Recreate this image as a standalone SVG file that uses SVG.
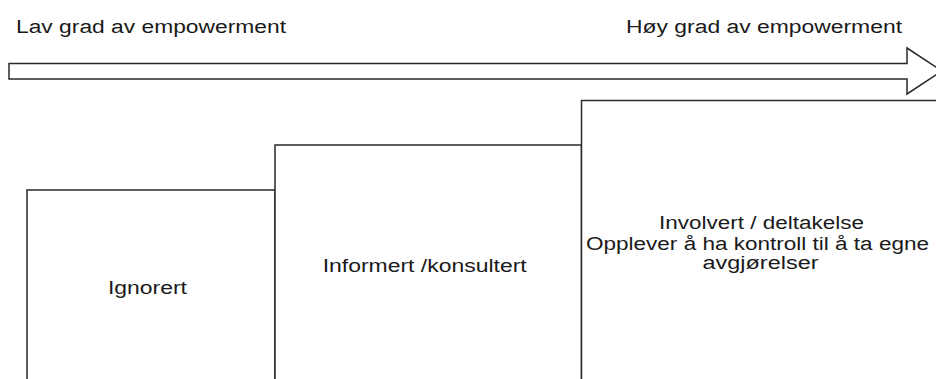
<svg xmlns="http://www.w3.org/2000/svg" width="936" height="379" viewBox="0 0 936 379">
<style>
.box{fill:#ffffff;stroke:#2a2a2a;stroke-width:1.5}
.lbl{font-family:"Liberation Sans",Arial,sans-serif;font-size:18px;fill:#1a1a1a}
.mid{text-anchor:middle}
</style>
<rect x="0" y="0" width="936" height="379" fill="#ffffff"/>
<g id="arrow">
<path class="box" d="M9,63.5 L907,63.5 L907,48 L942,71 L907,94 L907,79 L9,79 Z"/>
</g>
<g id="label-low">
<text class="lbl" x="16" y="33" textLength="270" lengthAdjust="spacingAndGlyphs">Lav grad av empowerment</text>
</g>
<g id="label-high">
<text class="lbl" x="626" y="33" textLength="276" lengthAdjust="spacingAndGlyphs">Høy grad av empowerment</text>
</g>
<g id="connectors"></g>
<g id="node-ignorert">
<rect class="box" x="27" y="190" width="248" height="200"/>
<text class="lbl mid" x="147.5" y="294" textLength="79" lengthAdjust="spacingAndGlyphs">Ignorert</text>
</g>
<g id="node-informert">
<rect class="box" x="275" y="145" width="306.5" height="245"/>
<text class="lbl mid" x="424.7" y="272" textLength="204" lengthAdjust="spacingAndGlyphs">Informert /konsultert</text>
</g>
<g id="node-involvert">
<rect class="box" x="581.5" y="100.5" width="400" height="290"/>
<text class="lbl mid" x="761.5" y="228.5" textLength="205" lengthAdjust="spacingAndGlyphs">Involvert / deltakelse</text>
<text class="lbl mid" x="757.5" y="250" textLength="343" lengthAdjust="spacingAndGlyphs">Opplever å ha kontroll til å ta egne</text>
<text class="lbl mid" x="760.5" y="268.5" textLength="116" lengthAdjust="spacingAndGlyphs">avgjørelser</text>
</g>
</svg>
